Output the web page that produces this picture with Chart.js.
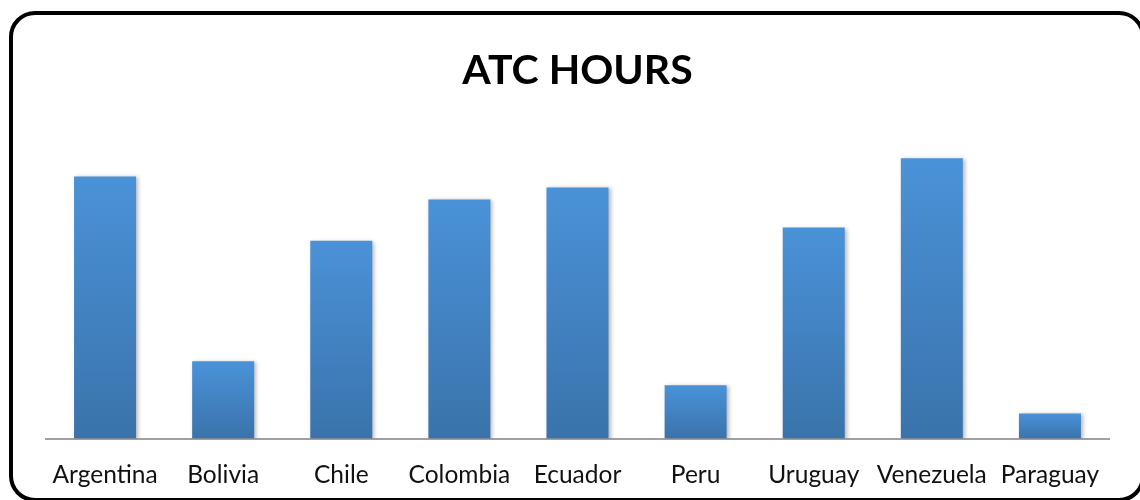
<!DOCTYPE html>
<html>
<head>
<meta charset="utf-8">
<script src="https://cdn.jsdelivr.net/npm/chart.js@4/dist/chart.umd.min.js"></script>
<style>
  html, body { margin: 0; padding: 0; background: #fff; overflow: hidden; }
  #wrap { position: relative; width: 1140px; height: 500px; }
  #frame {
    position: absolute; left: 9px; top: 11px; width: 1136px; height: 491px;
    box-sizing: border-box; border: 4px solid #000; border-radius: 26px;
    pointer-events: none;
  }
  canvas { position: absolute; left: 0; top: 0; }
</style>
</head>
<body>
<div id="wrap">
  <canvas id="atcChart" width="1140" height="500"></canvas>
  <div id="frame"></div>
</div>
<script>
const countries = ["Argentina", "Bolivia", "Chile", "Colombia", "Ecuador", "Peru", "Uruguay", "Venezuela", "Paraguay"];
const atcHours = [261, 77, 197, 238, 250, 53, 210, 279, 25];
const yMax = 300;

// each bar gets its own top-to-bottom gradient, like the office chart
function barFill(c) {
  const chart = c.chart;
  const y = chart.scales.y;
  if (!chart.chartArea || !y || c.raw === undefined) return "#4385c8";
  const top = y.getPixelForValue(c.raw);
  const base = y.getPixelForValue(0);
  const g = chart.ctx.createLinearGradient(0, top, 0, base);
  g.addColorStop(0, "#4a92d8");
  g.addColorStop(1, "#3a73ab");
  return g;
}

const barShadow = {
  id: "barShadow",
  beforeDatasetDraw(chart) {
    const ctx = chart.ctx;
    ctx.save();
    ctx.shadowColor = "rgba(0,0,0,0.28)";
    ctx.shadowBlur = 4;
    ctx.shadowOffsetX = 2;
    ctx.shadowOffsetY = 1;
  },
  afterDatasetDraw(chart) {
    chart.ctx.restore();
  }
};

new Chart(document.getElementById("atcChart"), {
  type: "bar",
  data: {
    labels: countries,
    datasets: [
      {
        label: "ATC HOURS",
        data: atcHours,
        backgroundColor: barFill,
        borderWidth: 0,
        barPercentage: 0.525,
        categoryPercentage: 1,
      },
    ],
  },
  plugins: [barShadow],
  options: {
    responsive: false,
    animation: false,
    layout: {
      padding: { left: 46, right: 31, top: 10, bottom: -12 },
    },
    plugins: {
      legend: { display: false },
      tooltip: { enabled: false },
      title: {
        display: true,
        text: "ATC HOURS",
        color: "#000",
        font: { family: "Lato", size: 41, weight: "bold", lineHeight: 1.2 },
        padding: { top: 36, bottom: 42 },
      },
    },
    scales: {
      x: {
        grid: { display: false, drawTicks: false, tickLength: 0 },
        border: { display: true, color: "#a0a0a0", width: 2 },
        ticks: {
          color: "#111",
          padding: 22,
          font: { family: "Lato", size: 24.5, lineHeight: 1.2 },
          maxRotation: 0,
          autoSkip: false,
        },
      },
      y: {
        display: false,
        min: 0,
        max: yMax,
      },
    },
  },
});
</script>
</body>
</html>
